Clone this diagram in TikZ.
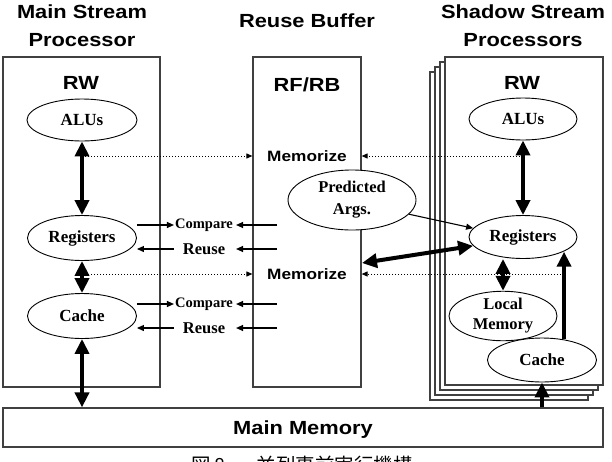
\documentclass[tikz,border=0pt]{standalone}
\usepackage{fontspec}
\usetikzlibrary{arrows.meta,shapes.geometric,calc}
\newfontfamily\hsans{Liberation Sans}[FakeStretch=1.15]
\newfontfamily\serifb{Liberation Serif}
\newfontfamily\cjk{Noto Sans CJK JP}
\tikzset{
  pbox/.style={draw=black!75, line width=1.2pt, fill=white, rectangle, inner sep=0pt},
  ell/.style={ellipse, draw, line width=0.9pt, fill=white, inner sep=0pt,
    font=\serifb\bfseries\fontsize{17}{20}\selectfont, align=center},
  ttl/.style={font=\hsans\bfseries\fontsize{19}{28}\selectfont, align=center, inner sep=0pt},
  memtxt/.style={font=\hsans\bfseries\fontsize{15}{18}\selectfont, inner sep=1pt},
  cmptxt/.style={font=\serifb\bfseries\fontsize{14.5}{16}\selectfont, inner sep=1pt},
  reutxt/.style={font=\serifb\bfseries\fontsize{16.5}{18}\selectfont, inner sep=1pt},
  thk/.style={line width=4pt, {Triangle[width=14pt,length=15pt]}-{Triangle[width=14pt,length=15pt]}, shorten <=0pt, shorten >=0pt},
  thkone/.style={line width=4pt, -{Triangle[width=14pt,length=15pt]}},
  thn/.style={line width=1.1pt, -{Triangle[width=6pt,length=7pt]}},
  dotarr/.style={line width=1pt, dotted, -{Triangle[width=5pt,length=6pt]}},
}
\begin{document}
\begin{tikzpicture}[x=1pt,y=-1pt]
\useasboundingbox (0,0) rectangle (612,461);
\fill[white] (0,0) rectangle (612,461);

% titles
\node[ttl] (tmain) at (82,26) {Main Stream\\Processor};
\node[ttl] (treuse) at (307,21) {Reuse Buffer};
\node[ttl] (tshadow) at (523,26) {Shadow Stream\\Processors};

% main stream processor box
\node[pbox, minimum width=157pt, minimum height=330pt] (msp) at (81.5,222) {};
\node[ttl] (rwL) at (81,83) {RW};
\node[ell, minimum width=110pt, minimum height=42pt] (aluL) at (82,120) {ALUs};
\node[ell, minimum width=109pt, minimum height=45pt] (regL) at (82,238) {Registers};
\node[ell, minimum width=109pt, minimum height=45pt] (cacheL) at (82,316) {Cache};

% reuse buffer box
\node[pbox, minimum width=108pt, minimum height=330pt] (rfrb) at (307,222) {};
\node[ttl] (rfrbt) at (307,85) {RF/RB};
\node[memtxt] (mem1) at (307,156) {Memorize};
\node[memtxt] (mem2) at (307,274) {Memorize};
\node[ell, minimum width=128pt, minimum height=60pt, font=\serifb\bfseries\fontsize{16.5}{22}\selectfont] (pa) at (352,200) {Predicted\\Args.};

% shadow stream processors (stack)
\foreach \k in {3,2,1} {
  \node[pbox, minimum width=158pt, minimum height=328pt] (ss\k) at (524-5*\k,221+5*\k) {};
}
\node[pbox, minimum width=158pt, minimum height=328pt] (ssp) at (524,221) {};
\node[ttl] (rwR) at (522,83) {RW};
\node[ell, minimum width=108pt, minimum height=42pt] (aluR) at (523,119) {ALUs};
\node[ell, minimum width=108pt, minimum height=43pt] (regR) at (523,237) {Registers};
\node[ell, minimum width=108pt, minimum height=42pt, font=\serifb\bfseries\fontsize{16.5}{20}\selectfont] (lmR) at (503,316) {Local\\Memory};
\node[ell, minimum width=109pt, minimum height=44pt] (cacheR) at (542,360) {Cache};

% main memory
\node[pbox, minimum width=600pt, minimum height=39pt] (mm) at (303,427.5) {};
\node[ttl] (mmt) at (303,430) {Main Memory};

% compare / reuse labels
\node[cmptxt] (cmp1) at (204,225) {Compare};
\node[reutxt] (reu1) at (204,249) {Reuse};
\node[cmptxt] (cmp2) at (204,304) {Compare};
\node[reutxt] (reu2) at (204,328) {Reuse};

% coordinates
\coordinate (dl1) at (85,156);
\coordinate (dl2) at (85,274);
\coordinate (dr1) at (520,156);
\coordinate (dr2) at (561,274);
\coordinate (rb1) at (277,225);
\coordinate (rb2) at (277,249);
\coordinate (rb3) at (277,304);
\coordinate (rb4) at (277,328);
\coordinate (rbm) at (362,263);

% left thick arrows
\draw[thk] (aluL.south) -- (regL.north);
\draw[thk] (regL.south) -- (cacheL.north);
\draw[thk] (cacheL.south) -- (cacheL.south |- mm.north);

% dotted memorize arrows
\draw[dotarr] (dl1) -- (rfrb.west |- dl1);
\draw[dotarr] (dl2) -- (rfrb.west |- dl2);
\draw[dotarr] (dr1) -- (rfrb.east |- dr1);
\draw[dotarr] (dr2) -- (rfrb.east |- dr2);

% compare / reuse arrows
\draw[thn] (regL.east |- cmp1) -- (cmp1.west);
\draw[thn] (rb1) -- ([xshift=2pt]cmp1.east);
\draw[thn] (reu1.west -| cmp1.west) -- (regL.east |- reu1);
\draw[thn] (rb2) -- ([xshift=2pt]cmp1.east |- reu1);
\draw[thn] (cacheL.east |- cmp2) -- (cmp2.west);
\draw[thn] (rb3) -- ([xshift=2pt]cmp2.east);
\draw[thn] (reu2.west -| cmp2.west) -- (cacheL.east |- reu2);
\draw[thn] (rb4) -- ([xshift=2pt]cmp2.east |- reu2);

% right side arrows
\draw[thk] (aluR.south) -- (regR.north);
\draw[thk] (lmR.north |- regR.south) -- (lmR.north);
\draw[thkone] (cacheR.43) -- (cacheR.43 |- regR.-20);
\draw[thkone] (cacheR.south |- mm.north) -- (cacheR.south);
\draw[thn] (pa.-14) -- (regR.170);
\draw[thk] (rbm) -- (regR.190);

% caption (clipped at the bottom edge)
\begin{scope}
\clip (0,0) rectangle (612,461);
\node[font=\cjk\fontsize{19.5}{20}\selectfont, anchor=base, inner sep=0pt] (cap) at (302,472) {図 8\hspace{1.6em}並列事前実行機構};
\end{scope}
\end{tikzpicture}
\end{document}
